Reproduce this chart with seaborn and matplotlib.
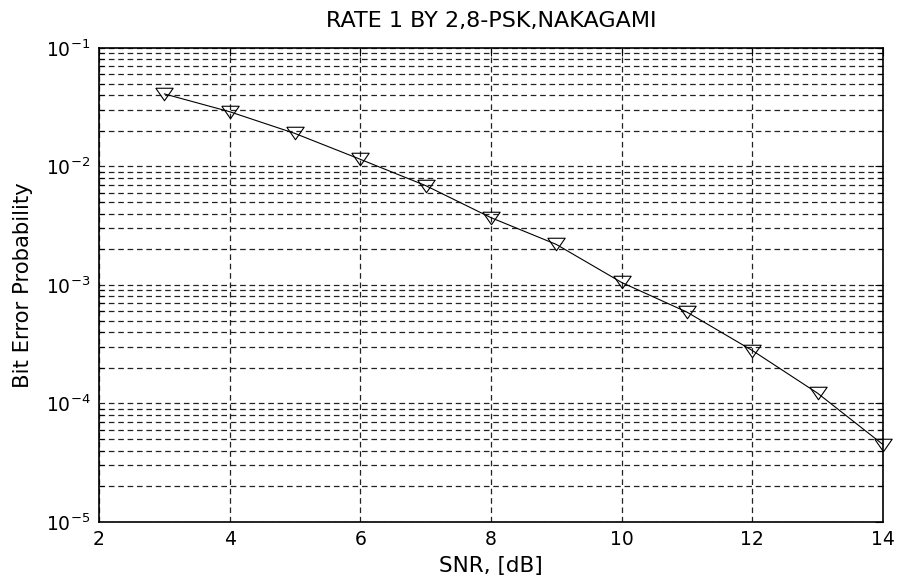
import matplotlib
matplotlib.use("Agg")
import matplotlib.pyplot as plt
from matplotlib.ticker import LogLocator, FixedLocator
import seaborn as sns
import pandas as pd

# SNR points and measured bit error probability
snr_db = [3, 4, 5, 6, 7, 8, 9, 10, 11, 12, 13, 14]
ber = [0.041, 0.029, 0.019, 0.0115, 0.0069, 0.0037, 0.0022, 0.00105,
       0.00059, 0.00028, 0.000122, 4.5e-5]
x_ticks = [2, 4, 6, 8, 10, 12, 14]

title_text = "RATE 1 BY 2,8-PSK,NAKAGAMI"
x_label = "SNR, [dB]"
y_label = "Bit Error Probability"

sns.set_theme(style="white")
plt.rcParams["font.family"] = ["DejaVu Sans"]
plt.rcParams["mathtext.fontset"] = "dejavusans"

df = pd.DataFrame({"snr": snr_db, "ber": ber})

# wide, flat downward triangle marker
tri_down = [(-1.0, 0.72), (1.0, 0.72), (0.0, -0.72), (-1.0, 0.72)]

fig = plt.figure(figsize=(8.98, 5.84), dpi=100)
ax = fig.add_axes([0.1102, 0.1062, 0.8731, 0.8116])

sns.lineplot(data=df, x="snr", y="ber", ax=ax, color="black", linewidth=0.8,
             marker=tri_down, markersize=12.5, markerfacecolor="none",
             markeredgecolor="black", markeredgewidth=0.8, clip_on=False,
             zorder=5)

ax.set_yscale("log")
ax.set_xlim(2, 14)
ax.set_ylim(1e-5, 1e-1)
ax.xaxis.set_major_locator(FixedLocator(x_ticks))
ax.yaxis.set_major_locator(LogLocator(base=10, numticks=10))
ax.yaxis.set_minor_locator(LogLocator(base=10, subs=range(2, 10), numticks=20))

grid_kw = dict(color="#222222", linestyle=(0, (4.5, 3)), linewidth=0.9)
ax.grid(True, which="major", axis="both", **grid_kw)
ax.grid(True, which="minor", axis="y", **grid_kw)

ax.tick_params(which="both", direction="in", top=True, right=True,
               colors="black", labelsize=13.5, pad=6)
ax.tick_params(which="major", length=6, width=0.8)
ax.tick_params(which="minor", length=3.5, width=0.8, left=True, right=True)
ax.tick_params(axis="x", which="minor", bottom=False, top=False)

for sp in ax.spines.values():
    sp.set_color("black")
    sp.set_linewidth(1.2)

ax.set_title(title_text, fontsize=16, color="black", pad=15)
ax.set_xlabel(x_label, fontsize=15.5, color="black", labelpad=5)
ax.set_ylabel(y_label, fontsize=15.2, color="black", labelpad=9)

fig.savefig("out.png", dpi=100, facecolor="white")
